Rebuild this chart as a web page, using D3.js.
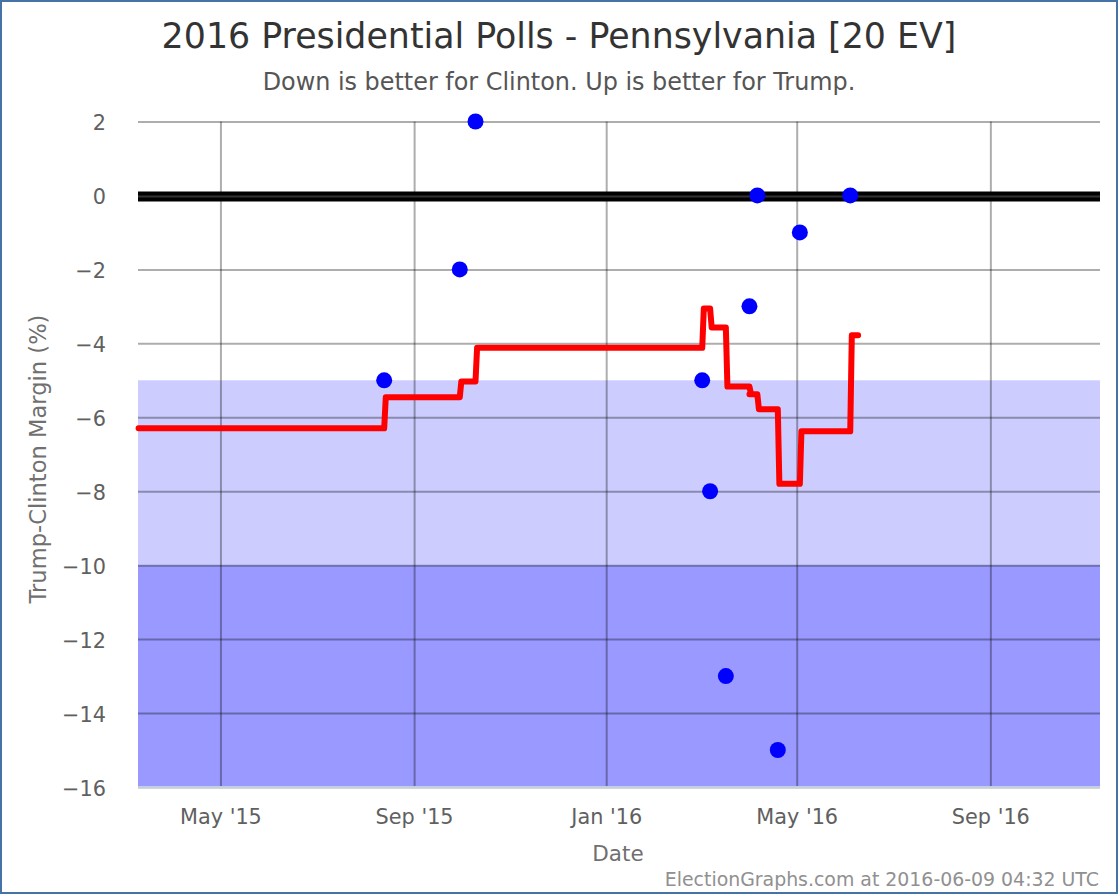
<!DOCTYPE html>
<html><head><meta charset="utf-8">
<script src="https://cdn.jsdelivr.net/npm/d3@7/dist/d3.min.js"></script>
<style>
html,body{margin:0;padding:0;background:#fff}
svg{display:block}
text{font-family:"DejaVu Sans",sans-serif}
</style></head><body>
<svg id="c" width="1120" height="896"></svg>
<script>
const titleText = "2016 Presidential Polls - Pennsylvania [20 EV]";
const subtitleText = "Down is better for Clinton. Up is better for Trump.";
const yLabel = "Trump-Clinton Margin (%)";
const xLabel = "Date";
const creditText = "ElectionGraphs.com at 2016-06-09 04:32 UTC";
const xDomain = ["2015-03-09", "2016-11-09"];
const yDomain = [-16, 2];
const xTicks = ["2015-05-01", "2015-09-01", "2016-01-01", "2016-05-01", "2016-09-01"];
const yTicks = [2, 0, -2, -4, -6, -8, -10, -12, -14, -16];
const pollDates = ["2015-08-13","2015-09-30","2015-10-10","2016-03-02","2016-03-07","2016-03-17","2016-04-01","2016-04-06","2016-04-19","2016-05-03","2016-06-04"];
const pollMargins = [-5,-2,2,-5,-8,-13,-3,0,-15,-1,0];
const avgDates = ["2015-03-10","2015-08-13","2015-08-14","2015-09-30","2015-10-01","2015-10-10","2015-10-11","2016-03-02","2016-03-03","2016-03-07","2016-03-08","2016-03-17","2016-03-18","2016-04-01","2016-04-02","2016-04-01","2016-04-03","2016-04-06","2016-04-07","2016-04-19","2016-04-20","2016-05-03","2016-05-04","2016-06-04","2016-06-05","2016-06-09"];
const avgMargins = [-6.3,-6.3,-5.46,-5.46,-5.03,-5.03,-4.12,-4.12,-3.06,-3.06,-3.57,-3.57,-5.17,-5.17,-5.38,-5.38,-5.38,-5.38,-5.78,-5.78,-7.8,-7.8,-6.38,-6.38,-3.78,-3.78];
const bandEdges = [[-5,-10,"#ccccff"],[-10,-16,"#9999ff"]];

const svg = d3.select("#c");
const L=138,R=1100,T=121.5,B=787;
const parse = d3.utcParse("%Y-%m-%d");
const x = d3.scaleUtc().domain(xDomain.map(parse)).range([L-1,R-1]);
const y = d3.scaleLinear().domain(yDomain).range([B,T]);

svg.append("rect").attr("x",1).attr("y",1).attr("width",1116).attr("height",892)
  .attr("fill","#fff").attr("stroke","#4572a7").attr("stroke-width",2);

svg.selectAll("rect.band").data(bandEdges).join("rect").attr("class","band")
  .attr("x",L).attr("width",R-L)
  .attr("y",d=>y(d[0])).attr("height",d=>y(d[1])-y(d[0])).attr("fill",d=>d[2]);

const xAxis = d3.axisBottom(x).tickValues(xTicks.map(parse))
  .tickFormat(d=>d3.utcFormat("%b '%y")(d)).tickSize(-(B-T)).tickPadding(22);
const gx = svg.append("g").attr("transform",`translate(0,${B})`).call(xAxis);
const yAxis = d3.axisLeft(y).tickValues(yTicks).tickFormat(d=>d3.format("d")(d)).tickSize(-(R-L)).tickPadding(32);
const gy = svg.append("g").attr("transform",`translate(${L},0)`).call(yAxis);
[gx,gy].forEach(g=>{
  g.select(".domain").remove();
  g.selectAll(".tick line").attr("stroke","#000").attr("stroke-opacity",0.32).attr("stroke-width",2);
  g.selectAll("text").attr("fill","#606060").attr("font-size",20.8);
});
gy.selectAll("text").attr("dy","0.4em");

svg.append("line").attr("x1",L).attr("x2",R).attr("y1",B).attr("y2",B).attr("stroke","#c0d0e0").attr("stroke-width",2);

svg.append("line").attr("x1",L).attr("x2",R).attr("y1",y(0)+1).attr("y2",y(0)+1).attr("stroke","#000").attr("stroke-width",10);
svg.append("line").attr("x1",L).attr("x2",R).attr("y1",y(0)+1).attr("y2",y(0)+1).attr("stroke","#333").attr("stroke-width",2);

const line = d3.line().x(i=>x(parse(avgDates[i]))).y(i=>y(avgMargins[i]));
svg.append("path").attr("d",line(d3.range(avgDates.length))).attr("fill","none")
  .attr("stroke","#ff0000").attr("stroke-width",6).attr("stroke-linejoin","round").attr("stroke-linecap","round");

svg.selectAll("circle.poll").data(pollDates).join("circle").attr("class","poll")
  .attr("cx",d=>x(parse(d))).attr("cy",(d,i)=>y(pollMargins[i])).attr("r",8).attr("fill","#0000ff");

svg.append("text").attr("x",559).attr("y",48).attr("text-anchor","middle").attr("font-size",34.8).attr("fill","#333").text(titleText);
svg.append("text").attr("x",559).attr("y",90).attr("text-anchor","middle").attr("font-size",23.9).attr("fill","#555").text(subtitleText);
svg.append("text").attr("x",618).attr("y",861).attr("text-anchor","middle").attr("font-size",21.5).attr("fill","#707070").text(xLabel);
svg.append("text").attr("transform","translate(46,459) rotate(-90)").attr("text-anchor","middle").attr("font-size",22.6).attr("fill","#707070").text(yLabel);
svg.append("text").attr("x",1099).attr("y",886).attr("text-anchor","end").attr("font-size",18.9).attr("fill","#909090").text(creditText);
</script></body></html>
